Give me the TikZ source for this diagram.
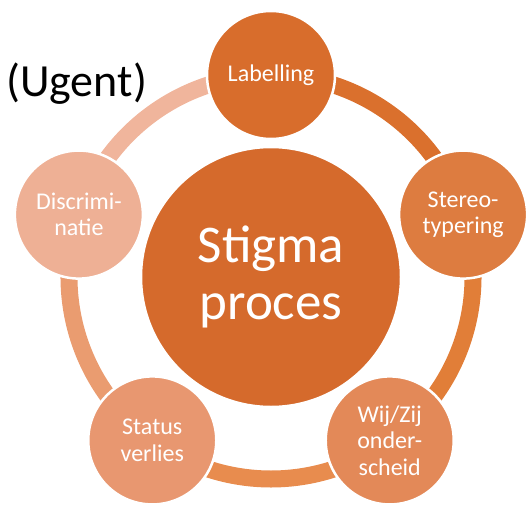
\documentclass[tikz,border=0pt]{standalone}
\usepackage{fontspec}
\setmainfont{Carlito}
\usetikzlibrary{backgrounds}

\definecolor{coreorange}{RGB}{213,106,44}
\definecolor{labelorange}{RGB}{216,109,44}
\definecolor{stereoorange}{RGB}{221,124,64}
\definecolor{wijorange}{RGB}{227,137,88}
\definecolor{statusorange}{RGB}{232,151,112}
\definecolor{discrimorange}{RGB}{238,176,149}
\definecolor{arcone}{RGB}{218,112,45}
\definecolor{arctwo}{RGB}{225,126,56}
\definecolor{arcthree}{RGB}{232,140,78}
\definecolor{arcfour}{RGB}{234,156,112}
\definecolor{arcfive}{RGB}{240,181,156}

\tikzset{
  stage/.style={circle, draw=white, line width=2.5pt, minimum size=128pt, inner sep=0pt,
    text=white, align=center, font=\fontsize{24}{26.5}\selectfont},
  ringarc/.style={line width=17pt, draw=#1},
}

\begin{document}
\begin{tikzpicture}[x=1pt, y=1pt]
	\useasboundingbox (-271,-229) rectangle (255,277);

	% Centre of the cycle
	\node[stage, fill=coreorange, minimum size=260pt, font=\fontsize{53}{57}\selectfont] (core) at (0,0) {Stigma\\proces};

	% Stages on the ring
	\node[stage, fill=labelorange] (label) at (90:202) {Labelling};
	\node[stage, fill=stereoorange] (stereo) at (18:202) {Stereo-\\typering};
	\node[stage, fill=wijorange] (wijzij) at (-54:202) {Wij/Zij\\onder-\\scheid};
	\node[stage, fill=statusorange] (status) at (-126:202) {Status\\verlies};
	\node[stage, fill=discrimorange] (discrim) at (162:202) {Discrimi-\\natie};

	% Ring behind the stages
	\begin{scope}[on background layer]
		\draw[ringarc=arcone] (label.center) arc[start angle=90, end angle=18, radius=202pt];
		\draw[ringarc=arctwo] (stereo.center) arc[start angle=18, end angle=-54, radius=202pt];
		\draw[ringarc=arcthree] (wijzij.center) arc[start angle=-54, end angle=-126, radius=202pt];
		\draw[ringarc=arcfour] (status.center) arc[start angle=-126, end angle=-198, radius=202pt];
		\draw[ringarc=arcfive] (discrim.center) arc[start angle=162, end angle=90, radius=202pt];
	\end{scope}

	\node[anchor=base west, inner sep=0pt, font=\fontsize{46}{50}\selectfont] (source) at (-265,180) {(Ugent)};
\end{tikzpicture}
\end{document}
